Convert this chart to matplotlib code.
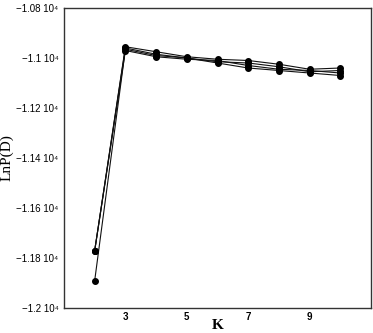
import matplotlib
matplotlib.use("Agg")
import matplotlib.pyplot as plt

K = [2, 3, 4, 5, 6, 7, 8, 9, 10]
run1 = [-11770, -10955, -10975, -10995, -11005, -11010, -11025, -11045, -11040]
run2 = [-11770, -10960, -10985, -11000, -11015, -11020, -11035, -11055, -11050]
run3 = [-11890, -10965, -10990, -11000, -11020, -11040, -11050, -11060, -11070]
run4 = [-11770, -10970, -10995, -11005, -11010, -11030, -11045, -11050, -11060]
runs = [run1, run2, run3, run4]

yticks = [-12000, -11800, -11600, -11400, -11200, -11000, -10800]
ylabels = ["\u22121.2 10\u2074", "\u22121.18 10\u2074", "\u22121.16 10\u2074", "\u22121.14 10\u2074",
           "\u22121.12 10\u2074", "\u22121.1 10\u2074", "\u22121.08 10\u2074"]
xticks = [3, 5, 7, 9]

fig = plt.figure(figsize=(3.73, 3.33), dpi=100)
ax = fig.add_axes([64/373, 1-308/333, 307/373, 300/333])
for r in runs:
    ax.plot(K, r, color="#111111", lw=0.8, marker="o", ms=4,
            markerfacecolor="black", markeredgecolor="black")
ax.set_xlim(1, 11)
ax.set_ylim(-12000, -10800)
ax.set_yticks(yticks)
ax.set_yticklabels(ylabels, fontsize=7, family="Liberation Sans")
ax.set_xticks(xticks)
ax.set_xticklabels([str(x) for x in xticks], fontsize=7, family="Liberation Sans", fontweight="bold")
ax.tick_params(axis="y", length=0, pad=4)
ax.tick_params(axis="x", length=0, pad=3)
for s in ax.spines.values():
    s.set_linewidth(1.0)
    s.set_color("#333333")
ax.set_xlabel("K", fontsize=11, family="Liberation Serif", fontweight="bold", labelpad=-2)
ax.set_ylabel("LnP(D)", fontsize=11, family="Liberation Serif", labelpad=2)
fig.savefig("out.png", dpi=100)
